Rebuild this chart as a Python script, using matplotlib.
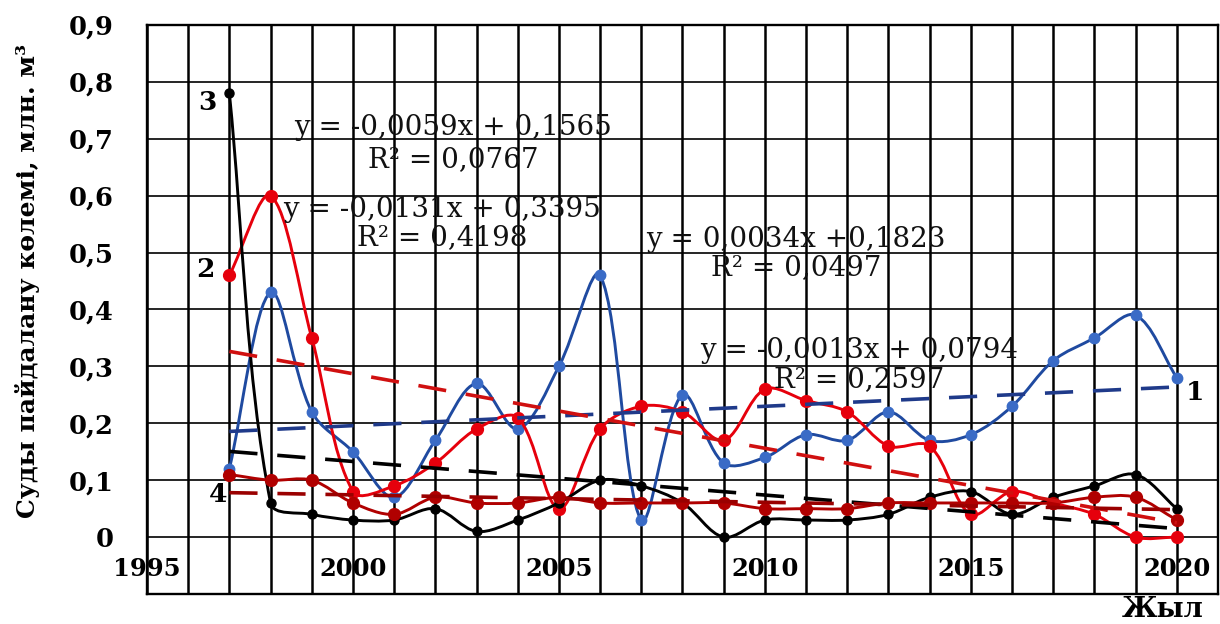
import numpy as np
import matplotlib
matplotlib.use("Agg")
import matplotlib.pyplot as plt
from matplotlib.path import Path
from matplotlib.patches import PathPatch

# ---- data -------------------------------------------------------------
years = list(range(1997, 2021))

series_1 = [0.12, 0.43, 0.22, 0.15, 0.07, 0.17, 0.27, 0.19, 0.30, 0.46, 0.03, 0.25,
            0.13, 0.14, 0.18, 0.17, 0.22, 0.17, 0.18, 0.23, 0.31, 0.35, 0.39, 0.28]
series_2 = [0.46, 0.60, 0.35, 0.08, 0.09, 0.13, 0.19, 0.21, 0.05, 0.19, 0.23, 0.22,
            0.17, 0.26, 0.24, 0.22, 0.16, 0.16, 0.04, 0.08, 0.06, 0.04, 0.00, 0.00]
series_3 = [0.78, 0.06, 0.04, 0.03, 0.03, 0.05, 0.01, 0.03, 0.06, 0.10, 0.09, 0.06,
            0.00, 0.03, 0.03, 0.03, 0.04, 0.07, 0.08, 0.04, 0.07, 0.09, 0.11, 0.05]
series_4 = [0.11, 0.10, 0.10, 0.06, 0.04, 0.07, 0.06, 0.06, 0.07, 0.06, 0.06, 0.06,
            0.06, 0.05, 0.05, 0.05, 0.06, 0.06, 0.06, 0.06, 0.06, 0.07, 0.07, 0.03]

# linear trends y = slope * x + intercept, x = 1 .. n
trend_slopes = [0.0034, -0.0131, -0.0059, -0.0013]
trend_intercepts = [0.1823, 0.3395, 0.1565, 0.0794]
trend_eq_labels = ["y = 0,0034x +0,1823", "y = -0,0131x + 0,3395",
                   "y = -0,0059x + 0,1565", "y = -0,0013x + 0,0794"]
trend_r2_labels = ["R² = 0,0497", "R² = 0,4198", "R² = 0,0767", "R² = 0,2597"]

series_names = ["1", "2", "3", "4"]

x_tick_years = [1995, 2000, 2005, 2010, 2015, 2020]
y_ticks = [-0.1, 0.0, 0.1, 0.2, 0.3, 0.4, 0.5, 0.6, 0.7, 0.8, 0.9]
y_tick_labels = ["", "0", "0,1", "0,2", "0,3", "0,4", "0,5", "0,6", "0,7", "0,8", "0,9"]

y_title = "Суды пайдалану көлемі, млн. м³"
x_title = "Жыл"

# ---- styling ----------------------------------------------------------
line_colors = ["#1f4aa0", "#e6000c", "#000000", "#b00000"]
marker_colors = ["#3a6bc6", "#e6000c", "#000000", "#b00000"]
marker_sizes = [7.5, 8.5, 6.5, 8.5]
trend_colors = ["#1f3a8a", "#d01010", "#000000", "#9a0000"]

plt.rcParams["font.family"] = ["DejaVu Serif"]

W, H = 1220, 624
fig = plt.figure(figsize=(W / 100, H / 100), dpi=100)
ax_left, ax_right, ax_top, ax_bottom = 147, 1218, 25, 594
ax = fig.add_axes([ax_left / W, 1 - ax_bottom / H,
                   (ax_right - ax_left) / W, (ax_bottom - ax_top) / H])
ax.set_xlim(1995, 2021)
ax.set_ylim(-0.1, 0.9)

# grid: one vertical line per year, horizontal every 0,1
ax.set_xticks(x_tick_years)
ax.set_xticklabels([str(y) for y in x_tick_years])
ax.set_xticks(range(1995, 2022), minor=True)
ax.set_yticks(y_ticks)
ax.set_yticklabels(y_tick_labels)
ax.grid(True, which="both", axis="x", color="black", lw=1.8)
ax.grid(True, which="major", axis="y", color="black", lw=1.2)
ax.set_axisbelow(True)

ax.spines["bottom"].set_position(("data", 0))
ax.spines["bottom"].set_visible(False)
for side in ["left", "top", "right"]:
    ax.spines[side].set_linewidth(1.7)
    ax.spines[side].set_color("black")
ax.plot([0, 1], [0, 0], transform=ax.transAxes, color="black", lw=1.7, clip_on=False)

ax.tick_params(axis="both", which="both", length=0)
ax.tick_params(axis="x", pad=14)
ax.tick_params(axis="y", pad=24)
for lab in ax.get_xticklabels():
    lab.set_fontsize(17.5)
    lab.set_fontweight("bold")
for lab in ax.get_yticklabels():
    lab.set_fontsize(18.5)
    lab.set_fontweight("bold")


def smooth_path(xs, ys):
    """Bezier curve through the points, tangents scaled by display-space segment lengths."""
    pts = np.column_stack([xs, ys]).astype(float)
    disp = ax.transData.transform(pts)
    n = len(pts)
    verts = [pts[0]]
    codes = [Path.MOVETO]
    for i in range(n - 1):
        i0 = max(i - 1, 0)
        i3 = min(i + 2, n - 1)
        p0, p1, p2, p3 = pts[i0], pts[i], pts[i + 1], pts[i3]
        d01 = np.hypot(*(disp[i] - disp[i0]))
        d12 = np.hypot(*(disp[i + 1] - disp[i]))
        d23 = np.hypot(*(disp[i3] - disp[i + 1]))
        c1 = p1 + (p2 - p0) * (d12 / (d01 + d12)) / 3.0
        c2 = p2 - (p3 - p1) * (d12 / (d12 + d23)) / 3.0
        verts += [c1, c2, p2]
        codes += [Path.CURVE4] * 3
    return Path(verts, codes)


all_series = [series_1, series_2, series_3, series_4]
for k, vals in enumerate(all_series):
    patch = PathPatch(smooth_path(years, vals), facecolor="none",
                      edgecolor=line_colors[k], lw=2.1, zorder=3 + k * 0.1)
    ax.add_patch(patch)
    ax.plot(years, vals, linestyle="none", marker="o", ms=marker_sizes[k],
            color=marker_colors[k], zorder=3.05 + k * 0.1)

# trend lines
x_idx = np.arange(1, len(years) + 1)
for k in range(4):
    trend = trend_slopes[k] * x_idx + trend_intercepts[k]
    ax.plot(years, trend, color=trend_colors[k], lw=2.6, dashes=(7.8, 5.5),
            dash_capstyle="butt", zorder=4)

# trend equations
eq_positions = [(2010.76, 0.510, 0.461), (2002.17, 0.563, 0.513),
                (2002.43, 0.707, 0.650), (2012.29, 0.315, 0.264)]
for k in range(4):
    xp, y1, y2 = eq_positions[k]
    ax.text(xp, y1, trend_eq_labels[k], ha="center", va="baseline",
            fontsize=20, color="#111111", zorder=5)
    ax.text(xp, y2, trend_r2_labels[k], ha="center", va="baseline",
            fontsize=20, color="#111111", zorder=5)

# series numbers
name_positions = [(2020.44, 0.241), (1996.41, 0.457), (1996.46, 0.750), (1996.72, 0.062)]
for k in range(4):
    ax.text(name_positions[k][0], name_positions[k][1], series_names[k],
            ha="center", va="baseline", fontsize=19, fontweight="bold",
            color="black", zorder=5)

fig.text(28 / W, 1 - 281 / H, y_title, rotation=90, ha="center", va="center",
         fontsize=18, fontweight="bold")
fig.text(1163 / W, 1 / H, x_title, ha="center", va="bottom",
         fontsize=19.5, fontweight="bold")

fig.savefig("out.png", dpi=100)
